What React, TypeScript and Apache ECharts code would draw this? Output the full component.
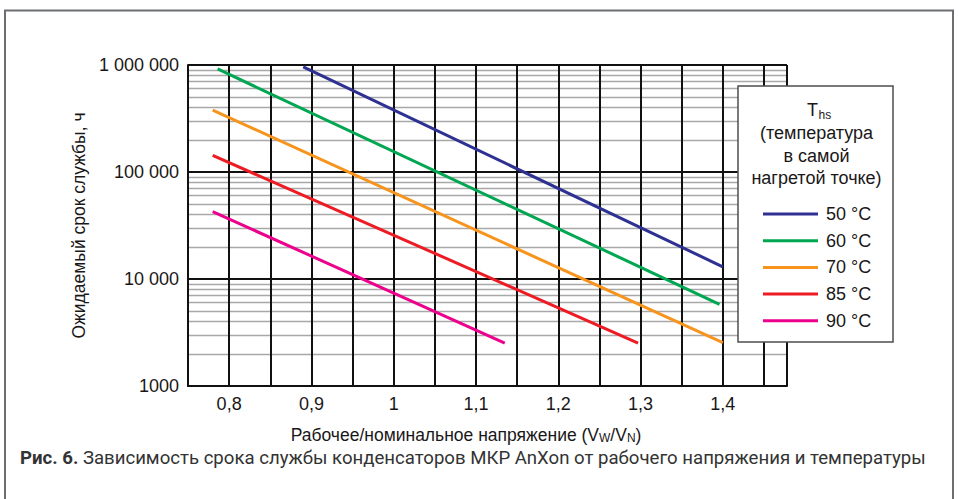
import React, { useEffect, useRef } from 'react';
import * as echarts from 'echarts';

// ---- data ----
const seriesNames = ['50 °C', '60 °C', '70 °C', '85 °C', '90 °C'];
const seriesColors = ['#2e3192', '#00a651', '#f7941d', '#ed1c24', '#ec008c'];

const voltage50 = [0.89, 1.4];
const life50 = [960000, 13000];
const voltage60 = [0.786, 1.396];
const life60 = [918000, 5800];
const voltage70 = [0.78, 1.4];
const life70 = [379000, 2540];
const voltage85 = [0.78, 1.297];
const life85 = [143000, 2520];
const voltage90 = [0.78, 1.135];
const life90 = [42600, 2520];

const xTickValues = [0.8, 0.9, 1.0, 1.1, 1.2, 1.3, 1.4];
const xTickLabels = ['0,8', '0,9', '1', '1,1', '1,2', '1,3', '1,4'];
const yTickValues = [1000, 10000, 100000, 1000000];
const yTickLabels = ['1000', '10 000', '100 000', '1 000 000'];
const minorGridValues = [
  2000, 3000, 4000, 5000, 6000, 7000, 8000, 9000,
  20000, 30000, 40000, 50000, 60000, 70000, 80000, 90000,
  200000, 300000, 400000, 500000, 600000, 700000, 800000, 900000,
];

const legendTitleLines = ['(температура', 'в самой', 'нагретой точке)'];
const xAxisTitle = '{m|Рабочее/номинальное напряжение (V}{s|W}{m|/V}{s|N}{m|)}';
const yAxisTitle = 'Ожидаемый срок службы, ч';
const captionBold = 'Рис. 6.';
const captionText = ' Зависимость срока службы конденсаторов МКР AnXon от рабочего напряжения и температуры';

const FONT = '"Liberation Sans", Arial, sans-serif';
const INK = '#1a1718';
const GRID = '#111111';

export default function App() {
  const ref = useRef<HTMLDivElement>(null);

  useEffect(() => {
    if (!ref.current) return;
    const chart = echarts.init(ref.current, undefined, { renderer: 'svg' });

    const xs = [voltage50, voltage60, voltage70, voltage85, voltage90];
    const ys = [life50, life60, life70, life85, life90];

    const lineSeries = seriesNames.map((name, i) => ({
      name,
      type: 'line',
      data: xs[i].map((x, k) => [x, ys[i][k]]),
      showSymbol: false,
      symbol: 'none',
      lineStyle: { color: seriesColors[i], width: 3 },
      itemStyle: { color: seriesColors[i] },
      z: 3,
      silent: true,
    }));

    const option: any = {
      animation: false,
      backgroundColor: '#ffffff',
      textStyle: { fontFamily: FONT },
      grid: { left: 188, right: 172, top: 65, bottom: 113, containLabel: false },
      xAxis: {
        type: 'value',
        z: 1.5,
        min: 0.75,
        max: 1.478,
        interval: 0.05,
        axisLine: { show: true, lineStyle: { color: GRID, width: 2 } },
        axisTick: { show: false },
        splitLine: { show: true, lineStyle: { color: GRID, width: 2, opacity: 1 } },
        axisLabel: {
          margin: 9,
          fontSize: 18,
          color: INK,
          fontFamily: FONT,
          showMinLabel: false,
          showMaxLabel: false,
          formatter: (v: number) => {
            const i = xTickValues.findIndex((t) => Math.abs(t - v) < 1e-6);
            return i >= 0 ? xTickLabels[i] : '';
          },
        },
      },
      yAxis: {
        type: 'log',
        z: 1.5,
        logBase: 10,
        min: 1000,
        max: 1000000,
        name: yAxisTitle,
        nameLocation: 'middle',
        nameGap: 100,
        nameTextStyle: { fontSize: 17.5, color: INK, fontFamily: FONT },
        axisLine: { show: true, lineStyle: { color: GRID, width: 2 } },
        axisTick: { show: false },
        splitLine: { show: true, lineStyle: { color: GRID, width: 2, opacity: 1 } },
        axisLabel: {
          margin: 9,
          fontSize: 18,
          color: INK,
          fontFamily: FONT,
          formatter: (v: number) => {
            const i = yTickValues.findIndex((t) => Math.abs(t - v) / t < 1e-6);
            return i >= 0 ? yTickLabels[i] : '';
          },
        },
      },
      legend: {
        data: seriesNames,
        orient: 'vertical',
        left: 763,
        top: 204,
        padding: 0,
        icon: 'rect',
        itemWidth: 55,
        itemHeight: 3,
        itemGap: 6.7,
        z: 10,
        selectedMode: false,
        textStyle: { fontSize: 18, color: INK, fontFamily: FONT, lineHeight: 20, padding: [0, 0, 0, 3] },
      },
      series: [
        {
          name: 'minor-grid',
          type: 'line',
          data: [],
          z: 1,
          silent: true,
          markLine: {
            z: 1,
            silent: true,
            symbol: ['none', 'none'],
            label: { show: false },
            lineStyle: { color: '#a8a8a8', width: 1.3, type: 'solid' },
            data: minorGridValues.map((v) => ({ yAxis: v })),
          },
        },
        ...lineSeries,
      ],
      graphic: [
        {
          type: 'rect',
          z: 0,
          silent: true,
          shape: { x: 5, y: 10.5, width: 948, height: 600 },
          style: { fill: 'none', stroke: '#6d6e71', lineWidth: 2 },
        },
        {
          type: 'rect',
          z: 5,
          silent: true,
          shape: { x: 738, y: 86, width: 155, height: 256 },
          style: { fill: '#ffffff', stroke: '#4d4d4f', lineWidth: 1.5 },
        },
        {
          type: 'text',
          z: 6,
          silent: true,
          x: 818,
          y: 109.5,
          style: { text: 'T', fontSize: 18, fill: INK, fontFamily: FONT, align: 'right', verticalAlign: 'middle' },
        },
        {
          type: 'text',
          z: 6,
          silent: true,
          x: 818.5,
          y: 115,
          style: { text: 'hs', fontSize: 12, fill: INK, fontFamily: FONT, align: 'left', verticalAlign: 'middle' },
        },
        ...legendTitleLines.map((t, i) => ({
          type: 'text',
          z: 6,
          silent: true,
          x: 816.5,
          y: 133.3 + i * 22.2,
          style: { text: t, fontSize: 18, fill: INK, fontFamily: FONT, align: 'center', verticalAlign: 'middle' },
        })),
        {
          type: 'text',
          z: 6,
          silent: true,
          x: 466,
          y: 435,
          style: {
            text: xAxisTitle,
            align: 'center',
            verticalAlign: 'middle',
            fontFamily: FONT,
            fill: INK,
            rich: {
              m: { fontSize: 17.5, fontFamily: FONT, fill: INK, lineHeight: 18, verticalAlign: 'middle' },
              s: { fontSize: 12, fontFamily: FONT, fill: INK, lineHeight: 10, verticalAlign: 'bottom' },
            },
          },
        },
        {
          type: 'text',
          z: 6,
          silent: true,
          x: 20,
          y: 457.5,
          style: {
            text: '{b|' + captionBold + '}{n|' + captionText + '}',
            align: 'left',
            verticalAlign: 'middle',
            rich: {
              b: { fontSize: 18.6, lineHeight: 19, fontWeight: 'bold', fontFamily: 'Roboto, sans-serif', fill: '#333333' },
              n: { fontSize: 18.6, lineHeight: 19, fontFamily: 'Roboto, sans-serif', fill: '#333333' },
            },
          },
        },
      ],
    };

    chart.setOption(option);
    return () => chart.dispose();
  }, []);

  return (
    <div
      ref={ref}
      style={{ position: 'fixed', left: 0, top: 0, width: 959, height: 499, background: '#fff' }}
    />
  );
}
